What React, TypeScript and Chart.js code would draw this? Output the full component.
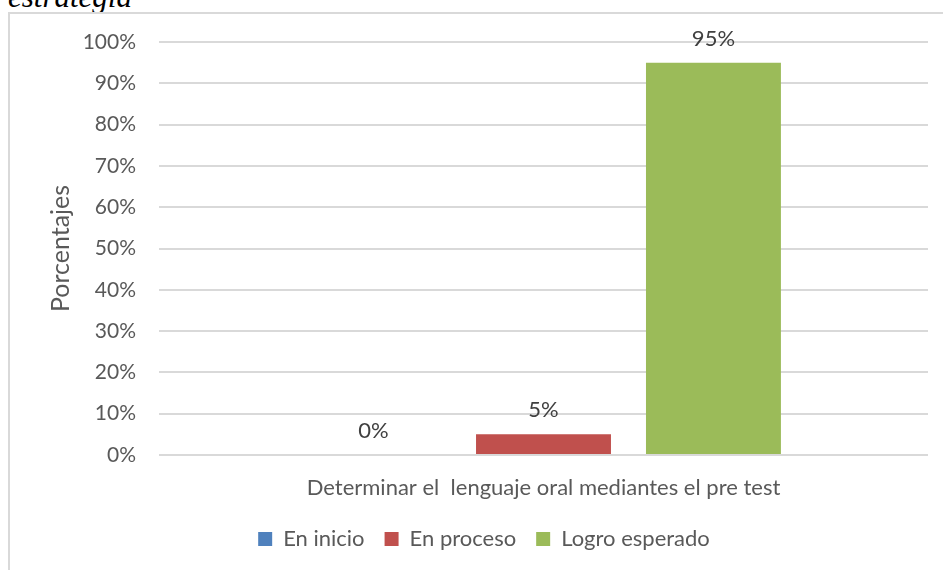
import React, { useEffect, useRef } from "react";
import { Chart, registerables } from "chart.js";

Chart.register(...registerables);

const categories = ["Determinar el  lenguaje oral mediantes el pre test"];
const seriesNames = ["En inicio", "En proceso", "Logro esperado"];
const enInicio = [0];
const enProceso = [5];
const logroEsperado = [95];
const seriesColors = ["#4F81BD", "#C0504D", "#9BBB59"];
const yTicksMax = 100;
const yTicksStep = 10;

const FONT = "Lato, 'Open Sans', sans-serif";

const valueLabels = {
  id: "valueLabels",
  afterDatasetsDraw(chart: any) {
    const ctx = chart.ctx;
    ctx.save();
    ctx.font = `22px ${FONT}`;
    ctx.fillStyle = "#404040";
    ctx.textAlign = "center";
    ctx.textBaseline = "middle";
    chart.data.datasets.forEach((ds: any, i: number) => {
      const meta = chart.getDatasetMeta(i);
      meta.data.forEach((el: any, j: number) => {
        ctx.fillText(`${ds.data[j]}%`, el.x, el.y - 24);
      });
    });
    ctx.restore();
  },
};

export default function App() {
  const ref = useRef<HTMLCanvasElement | null>(null);
  useEffect(() => {
    if (!ref.current) return;
    const chart = new Chart(ref.current, {
      type: "bar",
      data: {
        labels: categories,
        datasets: [enInicio, enProceso, logroEsperado].map((d, i) => ({
          label: seriesNames[i],
          data: d,
          backgroundColor: seriesColors[i],
          borderWidth: 0,
          categoryPercentage: 0.663,
          barPercentage: 0.794,
        })),
      },
      options: {
        animation: false,
        responsive: false,
        devicePixelRatio: 1,
        layout: { padding: { left: 40, right: 15, top: 42, bottom: 10 } },
        plugins: {
          legend: {
            position: "bottom",
            labels: {
              font: { family: FONT, size: 22 },
              color: "#595959",
              boxWidth: 14,
              boxHeight: 14,
              padding: 20,
            },
          },
          tooltip: { enabled: false },
        },
        scales: {
          x: {
            grid: { display: false, drawTicks: false },
            border: { display: false },
            ticks: {
              font: { family: FONT, size: 22 },
              color: "#595959",
              padding: 20,
              maxRotation: 0,
            },
            afterFit(scale: any) {
              scale.height = 53;
            },
          },
          y: {
            min: 0,
            max: yTicksMax,
            grid: { color: "#D9D9D9", lineWidth: 2, drawTicks: false },
            border: { display: false },
            ticks: {
              stepSize: yTicksStep,
              font: { family: FONT, size: 21 },
              color: "#595959",
              padding: 23,
              callback: (v: any) => `${v}%`,
            },
            title: {
              display: true,
              text: "Porcentajes",
              font: { family: FONT, size: 25 },
              color: "#595959",
              padding: { top: 6, bottom: 0 },
            },
            afterFit(scale: any) {
              scale.width = 119;
            },
          },
        },
      },
      plugins: [valueLabels],
    });
    return () => chart.destroy();
  }, []);

  return (
    <div style={{ position: "absolute", left: 0, top: 0, width: 943, height: 570, overflow: "hidden", background: "#fff" }}>
      <div
        style={{
          position: "absolute",
          left: 8,
          top: -19,
          fontFamily: "'Liberation Serif', 'Times New Roman', serif",
          fontStyle: "italic",
          fontSize: 31,
          lineHeight: "31px",
          color: "#000",
          whiteSpace: "nowrap",
        }}
      >
        estrategia
      </div>
      <div
        style={{
          position: "absolute",
          left: 8,
          top: 12,
          width: 1000,
          height: 600,
          border: "2px solid #D9D9D9",
          boxSizing: "border-box",
        }}
      />
      <canvas ref={ref} width={943} height={570} style={{ position: "absolute", left: 0, top: 0, width: 943, height: 570 }} />
    </div>
  );
}
